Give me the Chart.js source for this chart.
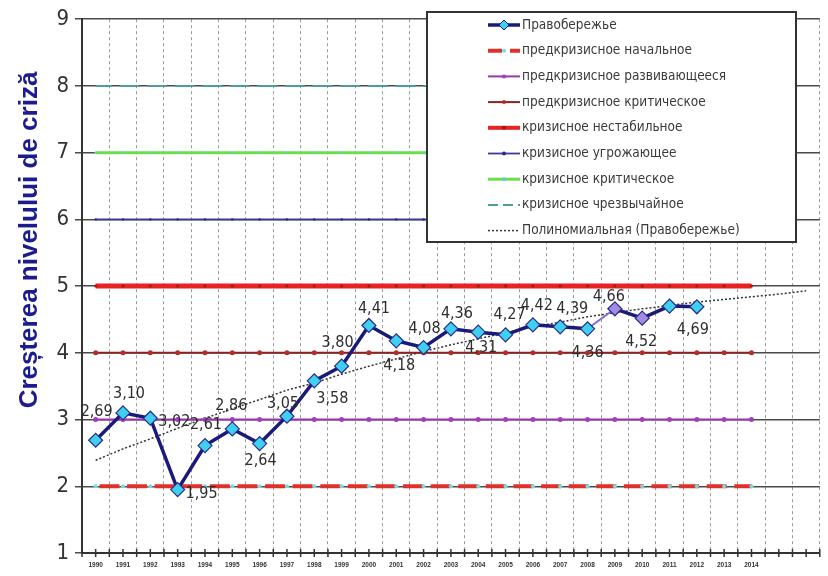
<!DOCTYPE html>
<html>
<head>
<meta charset="utf-8">
<script src="https://cdn.jsdelivr.net/npm/chart.js@4.4.1/dist/chart.umd.min.js"></script>
<style>
  body { margin: 0; background: #fff; }
  #wrap { width: 828px; height: 576px; }
</style>
</head>
<body>
<div id="wrap"><canvas id="crisisChart" width="828" height="576"></canvas></div>
<script>
// categories (two empty slots after 2014 for the trend forecast)
const years = ['1990', '1991', '1992', '1993', '1994', '1995', '1996', '1997', '1998', '1999',
    '2000', '2001', '2002', '2003', '2004', '2005', '2006', '2007', '2008', '2009',
    '2010', '2011', '2012', '2013', '2014', '', ''];

const pravoberezhye = [2.69, 3.10, 3.02, 1.95, 2.61, 2.86, 2.64, 3.05, 3.58, 3.80,
    4.41, 4.18, 4.08, 4.36, 4.31, 4.27, 4.42, 4.39, 4.36, 4.66,
    4.52, 4.70, 4.69];

// polynomial trend
const trend = [2.39, 2.56, 2.71, 2.87, 3.02, 3.16, 3.30, 3.44, 3.55, 3.68,
    3.80, 3.91, 4.02, 4.12, 4.21, 4.30, 4.39, 4.46, 4.54, 4.60,
    4.66, 4.71, 4.76, 4.80, 4.84, 4.88, 4.93];

// threshold levels, 1990-2014
const preInitial  = [2, 2, 2, 2, 2, 2, 2, 2, 2, 2, 2, 2, 2, 2, 2, 2, 2, 2, 2, 2, 2, 2, 2, 2, 2];
const preGrowing  = [3, 3, 3, 3, 3, 3, 3, 3, 3, 3, 3, 3, 3, 3, 3, 3, 3, 3, 3, 3, 3, 3, 3, 3, 3];
const preCritical = [4, 4, 4, 4, 4, 4, 4, 4, 4, 4, 4, 4, 4, 4, 4, 4, 4, 4, 4, 4, 4, 4, 4, 4, 4];
const unstable    = [5, 5, 5, 5, 5, 5, 5, 5, 5, 5, 5, 5, 5, 5, 5, 5, 5, 5, 5, 5, 5, 5, 5, 5, 5];
const threatening = [6, 6, 6, 6, 6, 6, 6, 6, 6, 6, 6, 6, 6, 6, 6, 6, 6, 6, 6, 6, 6, 6, 6, 6, 6];
const critical    = [7, 7, 7, 7, 7, 7, 7, 7, 7, 7, 7, 7, 7, 7, 7, 7, 7, 7, 7, 7, 7, 7, 7, 7, 7];
const emergency   = [8, 8, 8, 8, 8, 8, 8, 8, 8, 8, 8, 8, 8, 8, 8, 8, 8, 8, 8, 8, 8, 8, 8, 8, 8];

const yTicks = [1, 2, 3, 4, 5, 6, 7, 8, 9];

// where each value label sits relative to its point (null = not shown)
const labelOffsets = [[1, -28], [6, -19], [24, 4], [24, 4], [1, -21], [-1, -23], [1, 17], [-4, -12],
    [18, 18], [-4, -23], [5, -17], [3, 25], [1, -19], [6, -15], [3, 16], [4, -20], [4, -19],
    [12, -18], [0, 24], [-6, -12], [-1, 24], null, [-4, 23]];

const narrow = '"Liberation Sans Narrow", "DejaVu Sans Condensed", "Arial Narrow", sans-serif';

const mainMarkers = pravoberezhye.map((v, i) => (i === 19 || i === 20) ? '#a08ce6' : '#3fd0f0');

// value labels on the main series
const valueLabels = {
    id: 'valueLabels',
    afterDatasetsDraw(chart) {
        const ctx = chart.ctx;
        const meta = chart.getDatasetMeta(0);
        ctx.save();
        ctx.font = '16px ' + narrow;
        ctx.fillStyle = '#2e2e2e';
        ctx.textAlign = 'center';
        ctx.textBaseline = 'middle';
        meta.data.forEach((pt, i) => {
            const off = labelOffsets[i];
            if (!off) return;
            const txt = pravoberezhye[i].toFixed(2).replace('.', ',');
            ctx.fillText(txt, pt.x + off[0], pt.y + off[1]);
        });
        ctx.restore();
    }
};

// little crossing ticks along the x axis, y title and the boxed legend
const decorations = {
    id: 'decorations',
    afterDraw(chart) {
        const ctx = chart.ctx;
        const area = chart.chartArea;
        const step = (area.right - area.left) / years.length;
        ctx.save();
        ctx.strokeStyle = '#333';
        ctx.lineWidth = 1.5;
        for (let i = 0; i <= years.length * 2; i++) {
            const x = area.left + i * step / 2;
            ctx.beginPath();
            ctx.moveTo(x, area.bottom - 4);
            ctx.lineTo(x, area.bottom + 4);
            ctx.stroke();
        }

        // axis title
        ctx.save();
        ctx.translate(30, 240);
        ctx.rotate(-Math.PI / 2);
        ctx.font = 'bold 26px "Liberation Sans", Arial, sans-serif';
        ctx.fillStyle = '#1c1c8c';
        ctx.textAlign = 'center';
        ctx.textBaseline = 'middle';
        ctx.fillText('Creșterea nivelului de criză', 0, 0);
        ctx.restore();

        // legend
        const bx = 427, by = 12, bw = 369, bh = 230;
        ctx.fillStyle = '#fff';
        ctx.fillRect(bx, by, bw, bh);
        ctx.strokeStyle = '#333';
        ctx.lineWidth = 2;
        ctx.strokeRect(bx, by, bw, bh);

        chart.data.datasets.forEach((ds, i) => {
            const y = 25 + i * 25.7;
            ctx.beginPath();
            ctx.setLineDash(ds.legendDash || []);
            ctx.strokeStyle = ds.borderColor;
            ctx.lineWidth = Math.min(ds.borderWidth, 4);
            ctx.moveTo(488, y);
            ctx.lineTo(520, y);
            ctx.stroke();
            ctx.setLineDash([]);
            if (i === 0) {
                ctx.beginPath();
                ctx.moveTo(504, y - 5);
                ctx.lineTo(509, y);
                ctx.lineTo(504, y + 5);
                ctx.lineTo(499, y);
                ctx.closePath();
                ctx.fillStyle = '#3fd0f0';
                ctx.fill();
                ctx.lineWidth = 1;
                ctx.strokeStyle = '#1a1a7a';
                ctx.stroke();
            } else if (ds.pointRadius) {
                ctx.beginPath();
                ctx.arc(504, y, 2, 0, Math.PI * 2);
                ctx.fillStyle = ds.pointBackgroundColor;
                ctx.fill();
            }
            ctx.font = '13.5px ' + narrow;
            ctx.fillStyle = '#3a3a3a';
            ctx.textAlign = 'left';
            ctx.textBaseline = 'middle';
            ctx.fillText(ds.label, 522, y);
        });
        ctx.restore();
    }
};

const flat = (label, data, color, width, extra) => Object.assign({
    label: label,
    data: data,
    borderColor: color,
    borderWidth: width,
    pointRadius: 0,
    pointHoverRadius: 0,
    fill: false,
    tension: 0
}, extra || {});

const chart = new Chart(document.getElementById('crisisChart'), {
    type: 'line',
    data: {
        labels: years,
        datasets: [
            {
                label: 'Правобережье',
                data: pravoberezhye,
                borderColor: '#1a1a7a',
                borderWidth: 3.5,
                pointStyle: 'rectRot',
                pointRadius: 7,
                pointBackgroundColor: mainMarkers,
                pointBorderColor: '#2a2a8a',
                pointBorderWidth: 1.2,
                tension: 0,
                segment: {
                    borderColor: c => c.p0DataIndex === 18 ? '#7a6ad8' : undefined,
                    borderWidth: c => c.p0DataIndex === 18 ? 2 : undefined
                }
            },
            flat('предкризисное начальное', preInitial, '#e0302a', 4, {
                borderDash: [20, 7.6], borderDashOffset: 23.8, legendDash: [14, 8],
                pointRadius: 2, pointBackgroundColor: '#6fdde6', pointBorderWidth: 0
            }),
            flat('предкризисное развивающееся', preGrowing, '#9a34b0', 2, {
                pointRadius: 2.5, pointBackgroundColor: '#a23cc0', pointBorderWidth: 0
            }),
            flat('предкризисное критическое', preCritical, '#8a2222', 2, {
                pointRadius: 2.5, pointBackgroundColor: '#b52c2c', pointBorderWidth: 0
            }),
            flat('кризисное нестабильное', unstable, '#e62222', 5, {
                pointRadius: 1.5, pointBackgroundColor: '#a01818', pointBorderWidth: 0
            }),
            flat('кризисное угрожающее', threatening, '#3a3a9c', 1.8, {
                pointRadius: 1.2, pointBackgroundColor: '#2a2a8a', pointBorderWidth: 0
            }),
            flat('кризисное критическое', critical, '#6ade4c', 3, {
                pointRadius: 1.2, pointBackgroundColor: '#66cccc', pointBorderWidth: 0
            }),
            flat('кризисное чрезвычайное', emergency, '#4f9c9e', 2, {
                borderDash: [20, 7.6], borderDashOffset: 3.8, legendDash: [10, 5]
            }),
            flat('Полиномиальная (Правобережье)', trend, '#333', 1.5, {
                borderDash: [2, 2], legendDash: [2, 2]
            })
        ]
    },
    options: {
        responsive: false,
        animation: false,
        events: [],
        layout: { padding: { top: 18, right: 1, left: 0, bottom: 0 } },
        scales: {
            x: {
                offset: true,
                afterFit: s => { s.height = 23; },
                grid: {
                    offset: true,
                    color: '#9a9a9a',
                    lineWidth: 1,
                    drawTicks: true,
                    tickLength: 8,
                    tickColor: 'rgba(0,0,0,0)'
                },
                border: { display: true, color: '#333', width: 2, dash: [3, 3] },
                ticks: {
                    autoSkip: false,
                    maxRotation: 0,
                    padding: 0,
                    color: '#333',
                    font: { size: 6.5, weight: 'bold', family: 'Arial, sans-serif' }
                }
            },
            y: {
                min: 1,
                max: 9,
                afterFit: s => { s.width = 82; },
                afterBuildTicks: s => { s.ticks = yTicks.map(v => ({ value: v })); },
                grid: {
                    color: '#4a4a4a',
                    lineWidth: 1.5,
                    tickLength: 7
                },
                border: { display: true, color: '#333', width: 2 },
                ticks: {
                    padding: 6,
                    color: '#333',
                    font: { size: 22, family: narrow }
                }
            }
        },
        plugins: {
            legend: { display: false },
            tooltip: { enabled: false }
        }
    },
    plugins: [valueLabels, decorations]
});

// pin the plot area to the reference frame (82..827 x 18..553)
const area = chart.chartArea;
chart.options.layout.padding = {
    top: 18 + (18 - area.top),
    right: 1 + (area.right - 827),
    left: 0,
    bottom: 0
};
chart.update();
</script>
</body>
</html>
